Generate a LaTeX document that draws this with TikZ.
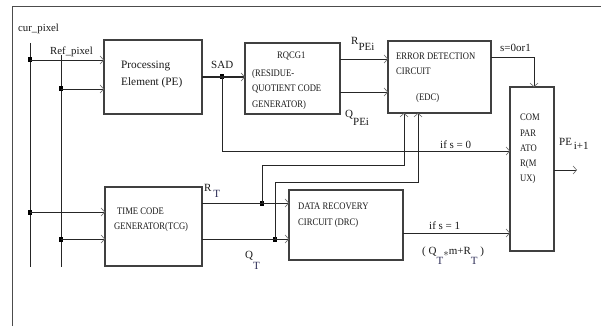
\documentclass[tikz,border=0pt]{standalone}
\usepackage{fontspec}
\setmainfont{Liberation Serif}
\newfontfamily\condfont[FakeStretch=0.86]{Liberation Serif}
\usetikzlibrary{arrows.meta}
\definecolor{subc}{HTML}{2B2B55}
\newcommand\lowtxt[2]{\raisebox{-#1}{#2}}
\begin{document}
\begin{tikzpicture}[x=1pt, y=-1pt,
  font=\fontsize{11}{13}\selectfont,
  >={Straight Barb[length=3.5pt,width=8pt,line width=0.6pt,color=black!60]},
  box/.style={draw=black!75, line width=1.2pt, anchor=north west, inner sep=0pt, outer sep=0pt},
  wire/.style={draw=black!85, line width=0.9pt},
  arr/.style={wire, ->},
  dot/.style={fill=black, minimum width=4pt, minimum height=5pt, inner sep=0pt, outer sep=0pt},
  lbl/.style={anchor=base west, inner sep=0pt, text=black!90},
  inbox/.style={lbl, font=\condfont\fontsize{10}{12}\selectfont},
  lab/.style={lbl, font=\fontsize{11}{13}\selectfont}]
\useasboundingbox (0,0) rectangle (601,326);

% frame
\coordinate (fbl) at (12,326);
\coordinate (ftl) at (12,7);
\coordinate (ftr) at (601,7);
\draw[black!70, line width=1pt] (fbl) -- (ftl) -- (ftr);

% boxes
\node[box, minimum width=98pt, minimum height=74pt] (pe) at (104,40) {};
\node[box, minimum width=95pt, minimum height=71pt] (rq) at (245,43) {};
\node[box, minimum width=103pt, minimum height=72pt] (edc) at (388,41) {};
\node[box, minimum width=44pt, minimum height=164pt] (comp) at (510,87) {};
\node[box, minimum width=97pt, minimum height=79pt] (tcg) at (105,187) {};
\node[box, minimum width=114pt, minimum height=70pt] (drc) at (289,190) {};

% input buses
\coordinate (curtop) at (30,43);
\coordinate (curbot) at (30,267);
\coordinate (reftop) at (61,55);
\coordinate (refbot) at (61,267);
\draw[wire] (curtop) -- (curbot);
\draw[wire] (reftop) -- (refbot);

\node[dot] (d1) at (30,60) {};
\node[dot] (d2) at (61,89) {};
\node[dot] (d3) at (30,212) {};
\node[dot] (d4) at (61,239) {};
\draw[arr] (d1.center) -- (d1.center -| pe.west);
\draw[arr] (d2.center) -- (d2.center -| pe.west);
\draw[arr] (d3.center) -- (d3.center -| tcg.west);
\draw[arr] (d4.center) -- (d4.center -| tcg.west);

% SAD
\node[dot] (sad) at (222,77) {};
\draw[wire, line width=1.8pt, ->] (sad.center -| pe.east) -- (sad.center -| rq.west);
\coordinate (s0) at (222,151);
\draw[arr] (sad.center) -- (s0) -- (s0 -| comp.west);

% RQCG -> EDC
\coordinate (rpe) at (364,59);
\coordinate (qpe) at (364,92);
\draw[arr] (rpe -| rq.east) -- (rpe -| edc.west);
\draw[arr] (qpe -| rq.east) -- (qpe -| edc.west);

% EDC -> comparator
\coordinate (sw) at (534,57);
\draw[arr] (sw -| edc.east) -- (sw) -- (sw |- comp.north);

% output
\coordinate (out) at (577,170);
\draw[arr] (out -| comp.east) -- (out);

% TCG outputs
\node[dot] (rt) at (262,203) {};
\node[dot] (qt) at (275,239) {};
\draw[arr] (rt.center -| tcg.east) -- (rt.center -| drc.west);
\draw[arr] (qt.center -| tcg.east) -- (qt.center -| drc.west);
\coordinate (e1) at (404,165);
\coordinate (e2) at (418,182);
\draw[arr] (rt.center) -- (rt.center |- e1) -- (e1) -- (e1 |- edc.south);
\draw[arr] (qt.center) -- (qt.center |- e2) -- (e2) -- (e2 |- edc.south);

% DRC -> comparator
\coordinate (s1) at (470,233);
\draw[arr] (s1 -| drc.east) -- (s1 -| comp.west);

% labels
\node[lbl, font=\fontsize{10.8}{12}\selectfont] (tcur) at (18,32) {cur\_pixel};
\node[lbl, font=\fontsize{10.8}{12}\selectfont] (tref) at (50,54.5) {Ref\_pixel};
\node[lbl, font=\fontsize{11.3}{13}\selectfont] (pe1) at (121,69) {Processing};
\node[lbl, font=\fontsize{11.3}{13}\selectfont] (pe2) at (121,85) {Element (PE)};
\node[lab] (tsad) at (211,68.5) {SAD};

\node[inbox] (rq1) at (277,58.5) {RQCG1};
\node[inbox] (rq2) at (252,77) {(RESIDUE-};
\node[inbox] (rq3) at (252,92) {QUOTIENT CODE};
\node[inbox] (rq4) at (252,107) {GENERATOR)};

\node[inbox] (ed1) at (396,60) {ERROR DETECTION};
\node[inbox] (ed2) at (396,75) {CIRCUIT};
\node[inbox] (ed3) at (416,100) {(EDC)};

\node[inbox] (c1) at (520,121) {COM};
\node[inbox] (c2) at (520,136) {PAR};
\node[inbox] (c3) at (520,151) {ATO};
\node[inbox] (c4) at (520,166) {R(M};
\node[inbox] (c5) at (520,181) {UX)};

\node[inbox] (tc1) at (117,214) {TIME CODE};
\node[inbox] (tc2) at (114,229) {GENERATOR(TCG)};

\node[inbox] (dr1) at (298,209) {DATA RECOVERY};
\node[inbox] (dr2) at (298,225) {CIRCUIT (DRC)};

\node[lab] (trpe) at (351,45) {R\lowtxt{6pt}{PEi}};
\node[lab] (tqpe) at (345,117) {Q\lowtxt{9pt}{PEi}};
\node[lab] (ts) at (500,52) {s=0or1};
\node[lab] (tif0) at (440,148) {if s = 0};
\node[lab] (tpe) at (559,145) {PE\,\lowtxt{4pt}{i+1}};
\node[lab] (trt) at (204,191) {R\,\lowtxt{6pt}{\textcolor{subc}{T}}};
\node[lab] (tqt) at (245,258) {Q\lowtxt{11pt}{\textcolor{subc}{T}}};
\node[lab] (tif1) at (429,229) {if s = 1};
\node[lab] (tform) at (422,254) {(\ Q\lowtxt{10pt}{\textcolor{subc}{T}}\lowtxt{2pt}{$\ast$}m+R\lowtxt{10pt}{\textcolor{subc}{T}}\ )};
\end{tikzpicture}
\end{document}
